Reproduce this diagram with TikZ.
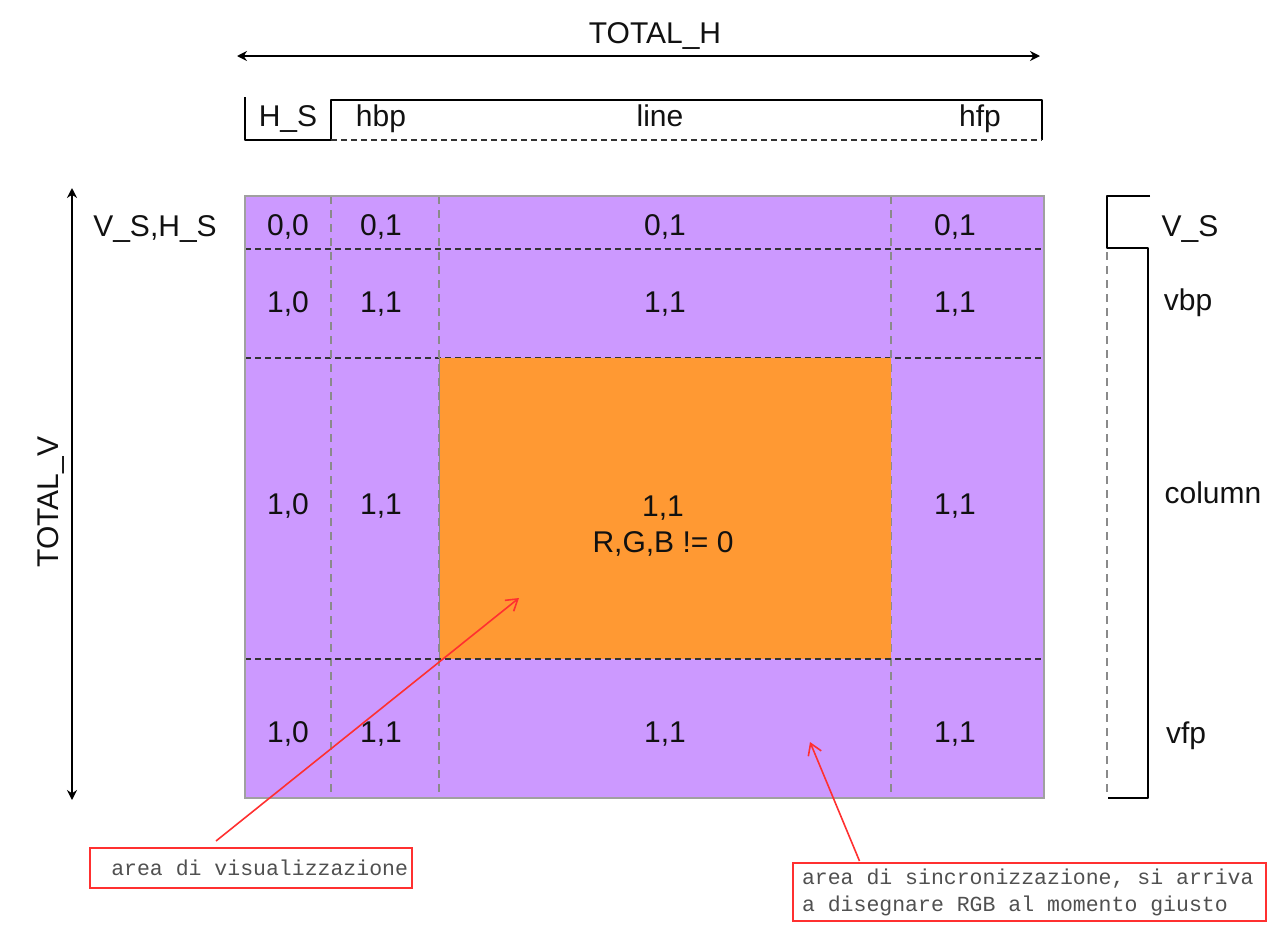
\documentclass[tikz,border=0pt]{standalone}
\usepackage{fontspec}
\setmainfont{Liberation Sans}
\newfontfamily\monof{Liberation Mono}
\newcommand\monosel{\monof\fontsize{21.5}{27}\selectfont}
\newcommand\monospc{\spaceskip=0.6em\xspaceskip=0.6em\relax}
\usetikzlibrary{arrows.meta,calc}
\definecolor{vpurple}{HTML}{CC99FF}
\definecolor{vorange}{HTML}{FF9933}
\definecolor{vred}{HTML}{FF3030}
\definecolor{vgrid}{HTML}{8A8A8A}
\definecolor{vdark}{HTML}{333333}
\definecolor{vtext}{HTML}{111111}
\definecolor{vmono}{HTML}{505050}
\definecolor{vborder}{HTML}{A0A0A0}
\begin{document}
\begin{tikzpicture}[x=1pt,y=-1pt,
  lblf/.style={font=\fontsize{30}{36}\selectfont, text=vtext, inner sep=0pt},
  lbl/.style={lblf, text height=21.5pt, text depth=0pt},
  hdash/.style={draw=vdark, line width=1.6pt, dash pattern=on 6pt off 4pt},
  vdash/.style={draw=vgrid, line width=1.3pt, dash pattern=on 8pt off 6pt},
  brk/.style={draw=black, line width=2.6pt, line join=round},
  dimarrow/.style={draw=black, line width=2.8pt, {Stealth[length=10pt,width=10pt]}-{Stealth[length=10pt,width=10pt]}},
  callout/.style={draw=vred, line width=2pt, font=\monosel, text=vmono, align=left},
  redarrow/.style={draw=vred, line width=1.6pt, -{Straight Barb[length=11pt,width=14pt]}},
]
\useasboundingbox (0,0) rectangle (1286,940);

% grid background
\fill[vpurple] (245,196) rectangle (1044,798);
\draw[hdash] (245,249) -- (1044,249);
\draw[hdash] (245,358) -- (1044,358);
\draw[vdash] (331,196) -- (331,798);
\draw[vdash] (439,196) -- (439,798);
\draw[vdash] (891,196) -- (891,798);
\fill[vorange] (439,358) rectangle (891,659);
\draw[vgrid, line width=0.8pt] (439,358) -- (439,659);
\draw[hdash] (245,659) -- (1044,659);
\draw[vborder, line width=1.2pt] (245,196) rectangle (1044,798);

% cell labels
\node[lbl] (c00) at (288,224.5) {0,0};
\node[lbl] (c01a) at (381,224.5) {0,1};
\node[lbl] (c01b) at (665,224.5) {0,1};
\node[lbl] (c01c) at (955,224.5) {0,1};
\node[lbl] (c10a) at (288,302) {1,0};
\node[lbl] (c11a) at (381,302) {1,1};
\node[lbl] (c11b) at (665,302) {1,1};
\node[lbl] (c11c) at (955,302) {1,1};
\node[lbl] (c10b) at (288,504) {1,0};
\node[lbl] (c11d) at (381,504) {1,1};
\node[lblf, align=center] (c11e) at (663,526) {1,1\\R,G,B != 0};
\node[lbl] (c11f) at (955,504) {1,1};
\node[lbl] (c10c) at (288,732) {1,0};
\node[lbl] (c11g) at (381,732) {1,1};
\node[lbl] (c11h) at (665,732) {1,1};
\node[lbl] (c11i) at (955,732) {1,1};

% TOTAL_H
\coordinate (thl) at (237,56);
\coordinate (thr) at (1040,56);
\draw[dimarrow] (thl) -- (thr);
\node[lbl] (toth) at (655,33) {TOTAL\_H};

% top bracket
\draw[brk] (245,97) -- (245,140) -- (331,140) -- (331,100) -- (1042,100) -- (1042,140);
\draw[hdash] (331,140) -- (1042,140);
\node[lbl] (hs) at (288,116) {H\_S};
\node[lbl] (hbp) at (381,116) {hbp};
\node[lbl] (line) at (660,116) {line};
\node[lbl] (hfp) at (980,116) {hfp};

% TOTAL_V
\coordinate (tvt) at (72,188);
\coordinate (tvb) at (72,800);
\draw[dimarrow] (tvt) -- (tvb);
\node[lbl, rotate=90] (totv) at (48,502) {TOTAL\_V};
\node[lbl] (vshs) at (155,226) {V\_S,H\_S};

% right bracket
\draw[brk] (1150,196) -- (1107,196) -- (1107,248) -- (1148,248) -- (1148,798) -- (1108,798);
\draw[vdash, line width=1.1pt] (1107,252) -- (1107,796);
\node[lbl] (vs) at (1190,226) {V\_S};
\node[lbl] (vbp) at (1188,300) {vbp};
\node[lbl] (col) at (1213,493) {column};
\node[lbl] (vfp) at (1186,733) {vfp};

% callouts
\node[callout, text width=314pt, inner xsep=4pt, minimum height=40pt, align=right] (box1) at (251,868) {\monospc area di visualizzazione};
\node[callout, text width=455pt, inner xsep=9pt, inner ysep=3pt, minimum height=58pt] (box2) at (1029.5,892) {\monospc area di sincronizzazione, si arriva\\a disegnare RGB al momento giusto};
\coordinate (tgt1) at (519,598);
\coordinate (tgt2) at (810,742);
\draw[redarrow] ($(box1.north)+(-35,-6)$) -- (tgt1);
\draw[redarrow] ($(box2.north)+(-170,-1)$) -- (tgt2);
\end{tikzpicture}
\end{document}
